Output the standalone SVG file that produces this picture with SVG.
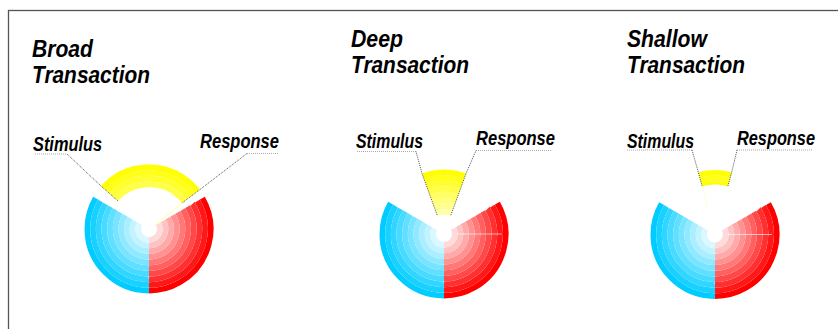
<svg xmlns="http://www.w3.org/2000/svg" width="838" height="329" viewBox="0 0 838 329">
<style>
.t{font-family:"Liberation Sans",Arial,sans-serif;font-weight:bold;font-style:italic;fill:#000}
.h{font-size:23px}
.l{font-size:20px}
.r{fill:none;stroke-width:5.65}
.frame{fill:none;stroke:#555;stroke-width:1.3}
.lead{fill:none;stroke:#555;stroke-width:1;stroke-dasharray:1 1}
.ul{fill:none;stroke:#aaa;stroke-width:1;stroke-dasharray:1 1}
.hl{stroke:#fff;stroke-opacity:.6;stroke-width:1}
</style>
<defs>
<g id="blue" class="r" stroke-dasharray="120 240">
<circle r="61.675" pathLength="360" stroke="#00CCFF"/>
<circle r="56.025" pathLength="360" stroke="#18D1FF"/>
<circle r="50.375" pathLength="360" stroke="#30D6FF"/>
<circle r="44.725" pathLength="360" stroke="#49DBFF"/>
<circle r="39.075" pathLength="360" stroke="#61DFFF"/>
<circle r="33.425" pathLength="360" stroke="#79E4FF"/>
<circle r="27.775" pathLength="360" stroke="#91E9FF"/>
<circle r="22.125" pathLength="360" stroke="#AAEEFF"/>
<circle r="16.475" pathLength="360" stroke="#C2F3FF"/>
<circle r="10.825" pathLength="360" stroke="#DAF8FF"/>
</g>
<g id="red" class="r" stroke-dasharray="120 240">
<circle r="61.675" pathLength="360" stroke="#FF0000"/>
<circle r="56.025" pathLength="360" stroke="#FF1818"/>
<circle r="50.375" pathLength="360" stroke="#FF3030"/>
<circle r="44.725" pathLength="360" stroke="#FF4949"/>
<circle r="39.075" pathLength="360" stroke="#FF6161"/>
<circle r="33.425" pathLength="360" stroke="#FF7979"/>
<circle r="27.775" pathLength="360" stroke="#FF9191"/>
<circle r="22.125" pathLength="360" stroke="#FFAAAA"/>
<circle r="16.475" pathLength="360" stroke="#FFC2C2"/>
<circle r="10.825" pathLength="360" stroke="#FFDADA"/>
</g>
<g id="body">
<use href="#blue" transform="rotate(90)"/>
<use href="#red" transform="rotate(-30)"/>
</g>
</defs>

<rect id="frame" class="frame" x="8.5" y="10.5" width="840" height="330"/>

<g id="broad">
<text class="t h" x="32" y="57" textLength="61" lengthAdjust="spacingAndGlyphs">Broad</text>
<text class="t h" x="32" y="83" textLength="118" lengthAdjust="spacingAndGlyphs">Transaction</text>
<g transform="translate(149,229)">
<use href="#body"/>
<g class="r" stroke-dasharray="100 260" transform="rotate(222)">
<circle r="61.675" pathLength="360" stroke="#FFFF00"/>
<circle r="56.025" pathLength="360" stroke="#FFFF18"/>
<circle r="50.375" pathLength="360" stroke="#FFFF30"/>
<circle r="44.725" pathLength="360" stroke="#FFFF49"/>
</g>
</g>
<text class="t l" x="33" y="150.5" textLength="69" lengthAdjust="spacingAndGlyphs">Stimulus</text>
<text class="t l" x="200" y="148" textLength="79" lengthAdjust="spacingAndGlyphs">Response</text>
</g>

<g id="deep">
<text class="t h" x="351" y="47" textLength="52" lengthAdjust="spacingAndGlyphs">Deep</text>
<text class="t h" x="351" y="73" textLength="118" lengthAdjust="spacingAndGlyphs">Transaction</text>
<g transform="translate(444,234)">
<use href="#body"/>
<line class="hl" x1="13" y1="0" x2="58" y2="0"/>
<g class="r" stroke-dasharray="40 320" transform="rotate(250)">
<circle r="61.675" pathLength="360" stroke="#FFFF00"/>
<circle r="56.025" pathLength="360" stroke="#FFFF18"/>
<circle r="50.375" pathLength="360" stroke="#FFFF30"/>
<circle r="44.725" pathLength="360" stroke="#FFFF49"/>
<circle r="39.075" pathLength="360" stroke="#FFFF61"/>
<circle r="33.425" pathLength="360" stroke="#FFFF79"/>
<circle r="27.775" pathLength="360" stroke="#FFFF91"/>
<circle r="22.125" pathLength="360" stroke="#FFFFAA"/>
</g>
</g>
<text class="t l" x="356" y="148" textLength="67" lengthAdjust="spacingAndGlyphs">Stimulus</text>
<text class="t l" x="476" y="145" textLength="79" lengthAdjust="spacingAndGlyphs">Response</text>
</g>

<g id="shallow">
<text class="t h" x="627" y="47" textLength="80" lengthAdjust="spacingAndGlyphs">Shallow</text>
<text class="t h" x="627" y="73" textLength="118" lengthAdjust="spacingAndGlyphs">Transaction</text>
<g transform="translate(715,234.5)">
<use href="#body"/>
<line class="hl" x1="13" y1="0" x2="57" y2="0"/>
<g class="r" stroke-dasharray="30 330" transform="rotate(255)">
<circle r="61.675" pathLength="360" stroke="#FFFF00"/>
<circle r="56.025" pathLength="360" stroke="#FFFF18"/>
<circle r="51.6" pathLength="360" stroke="#FFFF00" stroke-width="3.2"/>
</g>
</g>
<text class="t l" x="627" y="148" textLength="67" lengthAdjust="spacingAndGlyphs">Stimulus</text>
<text class="t l" x="737" y="144.5" textLength="78" lengthAdjust="spacingAndGlyphs">Response</text>
</g>

<g id="connectors">
<path class="ul" d="M35 154H67"/>
<path class="lead" d="M67 154L101 186L118 201"/>
<path class="ul" d="M247 153.5H279"/>
<path class="lead" d="M247 153.5L200 189.5L182 203"/>
<path d="M182 203L154 226" stroke="#FFFF99" stroke-width="1" fill="none"/>
<path class="ul" d="M357 151.5H416"/>
<path class="lead" d="M416 151.5L422 173.4L437.4 215.9"/>
<path class="ul" d="M476 150.5H552"/>
<path class="lead" d="M476 150.5L466.1 173.4L450.6 215.9"/>
<path class="ul" d="M627 150H692"/>
<path class="lead" d="M692 150L698.3 172.2L702.1 186.2"/>
<path d="M702.5 187L707 206" stroke="#FFFFCC" stroke-width="1" fill="none"/>
<path class="ul" d="M737 150H813"/>
<path class="lead" d="M737 150L731.7 172.2L727.9 186.2"/>
</g>
</svg>
